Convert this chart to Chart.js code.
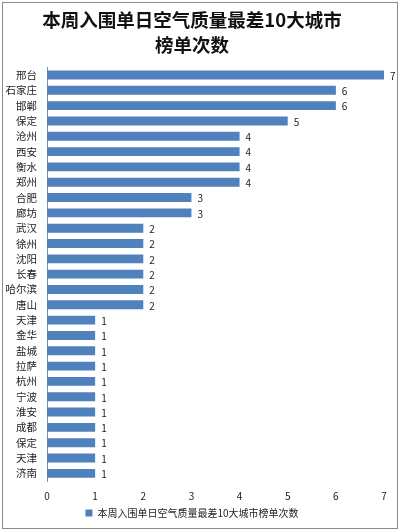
<!DOCTYPE html>
<html>
<head>
<meta charset="utf-8">
<script src="https://cdn.jsdelivr.net/npm/chart.js@4"></script>
<style>
  body { margin: 0; background: #fff; }
  #wrap { position: relative; width: 400px; height: 532px; }
  #frame { position: absolute; left: 2px; top: 2px; width: 394px; height: 525px; border: 1px solid #8c8c8c; pointer-events: none; }
</style>
</head>
<body>
<div id="wrap">
  <canvas id="chart" width="400" height="532"></canvas>
  <div id="frame"></div>
</div>
<script>
const cities = ['邢台','石家庄','邯郸','保定','沧州','西安','衡水','郑州','合肥','廊坊','武汉','徐州','沈阳','长春','哈尔滨','唐山','天津','金华','盐城','拉萨','杭州','宁波','淮安','成都','保定','天津','济南']
const counts = [7,6,6,5,4,4,4,4,3,3,2,2,2,2,2,2,1,1,1,1,1,1,1,1,1,1,1]
const seriesName = '本周入围单日空气质量最差10大城市榜单次数'
const titleLines = ['本周入围单日空气质量最差10大城市','榜单次数']

const font = '"Noto Sans CJK SC", "Microsoft YaHei", sans-serif'

// value labels right of each bar
const barLabels = {
  id: 'barLabels',
  afterDatasetsDraw(chart) {
    const ctx = chart.ctx
    const meta = chart.getDatasetMeta(0)
    ctx.save()
    ctx.font = '10px ' + font
    ctx.fillStyle = '#222'
    ctx.textBaseline = 'middle'
    meta.data.forEach((bar, i) => {
      ctx.fillText(counts[i], bar.x + 6, bar.y + 1)
    })
    ctx.restore()
  }
}

new Chart(document.getElementById('chart'), {
  type: 'bar',
  data: {
    labels: cities,
    datasets: [{
      label: seriesName,
      data: counts,
      backgroundColor: '#4f81bd',
      categoryPercentage: 1,
      barPercentage: 0.58
    }]
  },
  options: {
    indexAxis: 'y',
    responsive: false,
    animation: false,
    layout: { padding: { left: 0, right: 16, top: 0, bottom: 4 } },
    plugins: {
      title: {
        display: true,
        text: titleLines,
        color: '#111',
        font: { family: font, size: 18.5, weight: 'bold', lineHeight: 1.36 },
        padding: { top: 7, bottom: 10 }
      },
      legend: {
        position: 'bottom',
        labels: {
          color: '#222',
          font: { family: font, size: 10 },
          boxWidth: 7,
          boxHeight: 7,
          padding: 5
        }
      },
      tooltip: { enabled: false }
    },
    scales: {
      x: {
        min: 0,
        max: 7,
        ticks: { stepSize: 1, color: '#222', font: { family: font, size: 10 }, padding: 1 },
        grid: { display: false },
        border: { display: false }
      },
      y: {
        ticks: { autoSkip: false, color: '#222', font: { family: font, size: 10.5 }, padding: 10 },
        grid: { display: false, drawTicks: false },
        border: { display: true, color: '#8c8c8c' },
        afterFit(scale) { scale.width = 47 }
      }
    }
  },
  plugins: [barLabels]
})
</script>
</body>
</html>
